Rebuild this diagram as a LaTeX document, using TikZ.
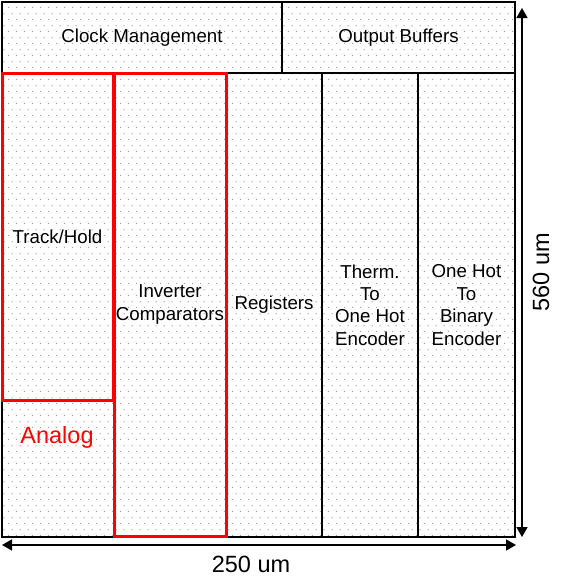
\documentclass[tikz,border=0pt]{standalone}
\usepackage{fontspec}
\setmainfont{Liberation Sans}
\usetikzlibrary{arrows.meta,patterns}
\pgfdeclarepatternformonly{stagdots}{\pgfpointorigin}{\pgfpoint{8pt}{12pt}}{\pgfpoint{8pt}{12pt}}{%
  \pgfpathrectangle{\pgfpoint{0pt}{0pt}}{\pgfpoint{1.3pt}{1.3pt}}%
  \pgfpathrectangle{\pgfpoint{4pt}{6pt}}{\pgfpoint{1.3pt}{1.3pt}}%
  \pgfusepath{fill}}
\definecolor{dotgray}{RGB}{165,165,165}
\definecolor{redline}{RGB}{255,0,0}
\tikzset{
  blk/.style={draw=black, line width=1.6pt, inner sep=0pt, outer sep=0pt, align=center,
    font=\fontsize{18.7}{22.4}\selectfont},
  redbox/.style={draw=redline, line width=3pt, inner sep=0pt, outer sep=0pt, align=center,
    font=\fontsize{18.7}{22.4}\selectfont},
  dim/.style={line width=1.5pt, {Triangle[length=10pt,width=11pt]}-{Triangle[length=10pt,width=11pt]}},
  big/.style={font=\fontsize{23.5}{28}\selectfont, inner sep=0pt}
}
\begin{document}
\begin{tikzpicture}[x=1pt,y=-1pt]
\useasboundingbox (0,0) rectangle (561,584);
\fill[white] (0,0) rectangle (561,584);
\node[draw=black, line width=1.8pt, pattern=stagdots, pattern color=dotgray, minimum width=513pt, minimum height=535pt, inner sep=0pt, outer sep=0pt] (chip) at (258.5,269.5) {};
\node[blk, minimum width=280pt, minimum height=71pt] (clk) at (142,37.5) {Clock Management};
\node[blk, minimum width=233pt, minimum height=71pt] (ob) at (398.5,37.5) {Output Buffers};
\node[blk, minimum width=96pt, minimum height=464pt] (reg) at (274,305) {Registers};
\node[blk, minimum width=96pt, minimum height=464pt] (therm) at (370,305) {Therm.\\To\\One Hot\\Encoder};
\node[blk, minimum width=97pt, minimum height=464pt] (oh) at (466.5,305) {One Hot\\To\\Binary\\Encoder};
\node[redbox, minimum width=111pt, minimum height=327pt] (th) at (57.5,236.5) {Track/Hold};
\node[redbox, minimum width=112pt, minimum height=463pt] (inv) at (170,304.5) {Inverter\\Comparators};
\node[big, text=redline] (analog) at (57,437) {Analog};
\coordinate (hl) at (2,545);
\coordinate (hr) at (516,545);
\coordinate (vt) at (522,8);
\coordinate (vb) at (522,537);
\draw[dim] (hl) -- (hr);
\draw[dim] (vt) -- (vb);
\node[big] (w) at (251,564) {250 um};
\node[big, rotate=90] (h) at (541,272) {560 um};
\end{tikzpicture}
\end{document}
